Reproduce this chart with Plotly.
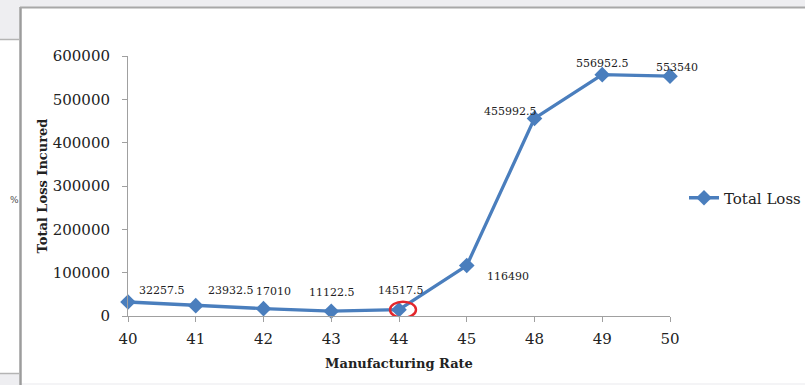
import plotly.graph_objects as go

# Manufacturing rate categories and the total loss incurred at each rate
rates = ["40", "41", "42", "43", "44", "45", "48", "49", "50"]
total_loss = [32257.5, 23932.5, 17010, 11122.5, 14517.5, 116490, 455992.5, 556952.5, 553540]
highlight_rate = "44"
y_ticks = [0, 100000, 200000, 300000, 400000, 500000, 600000]

W, H = 805, 385
L, R, T, B = 128, 135, 56, 69
PW, PH = W - L - R, H - T - B

LINE = "#4a7ebd"
FONT = "DejaVu Serif"
xs = list(range(len(rates)))


def fmt(v):
    return str(int(v)) if float(v).is_integer() else str(v)


def px(x):  # figure pixel -> paper x
    return (x - L) / PW


def py(y):  # figure pixel -> paper y
    return (H - B - y) / PH


fig = go.Figure()
fig.add_trace(go.Scatter(
    x=xs, y=total_loss, mode="lines+markers", name="Total Loss",
    line=dict(color=LINE, width=3.3),
    marker=dict(symbol="diamond", size=12, color=LINE),
    cliponaxis=False,
))

# data labels (pixel offsets from each point)
offsets = [(34, -12), (35, -15), (10, -17), (1, -19), (2, -19), (41, 11), (-24, -7), (0, -11), (7, -9)]
ann = []
for i, (v, (dx, dy)) in enumerate(zip(total_loss, offsets)):
    ann.append(dict(x=i, y=v, xref="x", yref="y", text=fmt(v), showarrow=False,
                    xshift=dx, yshift=-dy, font=dict(family=FONT, size=11, color="#222")))

# side panel text
ann.append(dict(x=px(8), y=py(200), xref="paper", yref="paper", text="%", showarrow=False,
                font=dict(family=FONT, size=9, color="#444")))

shapes = [
    # outer window frame
    dict(type="rect", xref="paper", yref="paper", x0=px(0), x1=px(W), y0=py(0), y1=py(7.5),
         fillcolor="#eeeef1", line_width=0, layer="below"),
    dict(type="rect", xref="paper", yref="paper", x0=px(0), x1=px(19), y0=py(0), y1=py(39),
         fillcolor="#eeeef1", line_width=0, layer="below"),
    dict(type="rect", xref="paper", yref="paper", x0=px(0), x1=px(19), y0=py(374), y1=py(H),
         fillcolor="#eeeef1", line_width=0, layer="below"),
    dict(type="rect", xref="paper", yref="paper", x0=px(21), x1=px(W), y0=py(383), y1=py(H),
         fillcolor="#f4f4f6", line_width=0, layer="below"),
    dict(type="line", xref="paper", yref="paper", x0=px(20.5), x1=px(20.5), y0=py(7), y1=py(H),
         line=dict(color="#9c9c9c", width=2.5), layer="below"),
    dict(type="line", xref="paper", yref="paper", x0=px(20), x1=px(W), y0=py(7.5), y1=py(7.5),
         line=dict(color="#a8a8a8", width=2), layer="below"),
    dict(type="line", xref="paper", yref="paper", x0=px(0), x1=px(19), y0=py(39.5), y1=py(39.5),
         line=dict(color="#b4b4b4", width=1.5), layer="below"),
    dict(type="line", xref="paper", yref="paper", x0=px(0), x1=px(19), y0=py(373.5), y1=py(373.5),
         line=dict(color="#b4b4b4", width=1.5), layer="below"),
]

# red ring around the highlighted rate
hi = rates.index(highlight_rate)
shapes.append(dict(type="circle", xref="x", yref="y", xsizemode="pixel", ysizemode="pixel",
                   xanchor=hi, yanchor=total_loss[hi], x0=-9, x1=17, y0=-8, y1=8,
                   line=dict(color="#e3262b", width=2.4)))

fig.update_layout(
    width=W, height=H,
    margin=dict(l=L, r=R, t=T, b=B, autoexpand=False),
    paper_bgcolor="white", plot_bgcolor="white",
    showlegend=True,
    legend=dict(x=px(684), y=py(198), xanchor="left", yanchor="middle",
                font=dict(family=FONT, size=15, color="#222"),
                bgcolor="rgba(0,0,0,0)", itemwidth=30),
    annotations=ann, shapes=shapes,
    font=dict(family=FONT, color="#222"),
)
fig.update_xaxes(
    range=[0, len(rates) - 1], tickvals=xs, ticktext=rates,
    showgrid=False, zeroline=False, showline=True, linecolor="#a0a0a0", linewidth=1,
    ticks="outside", ticklen=5, tickcolor="#a0a0a0",
    tickfont=dict(family=FONT, size=15, color="#222"), ticklabelstandoff=4,
    title=dict(text="<b>Manufacturing Rate</b>", font=dict(family=FONT, size=13, color="#222"), standoff=11),
)
fig.update_yaxes(
    range=[0, 600000], tickvals=y_ticks, ticktext=[str(t) for t in y_ticks],
    showgrid=False, zeroline=False, showline=True, linecolor="#a0a0a0", linewidth=1,
    ticks="outside", ticklen=5, tickcolor="#a0a0a0",
    tickfont=dict(family=FONT, size=15, color="#222"), ticklabelstandoff=9,
    title=dict(text="<b>Total Loss Incured</b>", font=dict(family=FONT, size=13, color="#222"), standoff=2),
)

fig.write_html("out.html")
